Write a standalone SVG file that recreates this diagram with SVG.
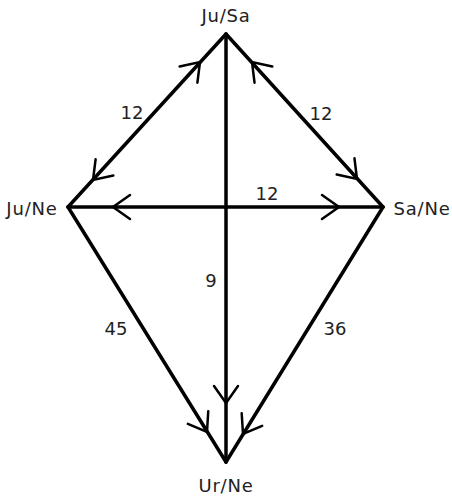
<svg xmlns="http://www.w3.org/2000/svg" width="452" height="496" viewBox="0 0 452 496">
<style>
.edge{stroke:#000;stroke-width:3.5;fill:none;stroke-linecap:round}
.arr{stroke:#000;stroke-width:2.5;fill:none;stroke-linecap:round;stroke-linejoin:miter}
text{font-family:"DejaVu Sans","Liberation Sans",sans-serif;font-size:18px;fill:#222}
.lbl{text-anchor:middle}
.node{letter-spacing:0.8px}
</style>
<defs>
<path id="chev" d="M-17,-12 L0,0 L-17,12"/>
</defs>
<rect width="452" height="496" fill="#fff"/>
<g id="connectors">
<line class="edge" x1="68" y1="207" x2="226" y2="34"/>
<line class="edge" x1="226" y1="34" x2="383" y2="207"/>
<line class="edge" x1="68" y1="207" x2="383" y2="207"/>
<line class="edge" x1="226" y1="34" x2="226" y2="462"/>
<line class="edge" x1="68" y1="207" x2="226" y2="462"/>
<line class="edge" x1="383" y1="207" x2="226" y2="462"/>
<use href="#chev" class="arr" transform="translate(200,62) rotate(-47.6)"/>
<use href="#chev" class="arr" transform="translate(93,180) rotate(132.4)"/>
<use href="#chev" class="arr" transform="translate(252,62) rotate(-132.2)"/>
<use href="#chev" class="arr" transform="translate(357,179) rotate(47.8)"/>
<use href="#chev" class="arr" transform="translate(113,207) rotate(180)"/>
<use href="#chev" class="arr" transform="translate(339,207) rotate(0)"/>
<use href="#chev" class="arr" transform="translate(226,403) rotate(90)"/>
<use href="#chev" class="arr" transform="translate(207,432) rotate(58.2)"/>
<use href="#chev" class="arr" transform="translate(243,434) rotate(121.6)"/>
<text x="132" y="119" class="lbl">12</text>
<text x="321" y="120" class="lbl">12</text>
<text x="267" y="200" class="lbl">12</text>
<text x="211" y="287" class="lbl">9</text>
<text x="116" y="335" class="lbl">45</text>
<text x="335" y="335" class="lbl">36</text>
</g>
<g id="JuSa"><text x="226" y="22" class="lbl node">Ju/Sa</text></g>
<g id="JuNe"><text x="32" y="215" class="lbl node">Ju/Ne</text></g>
<g id="SaNe"><text x="422" y="215" class="lbl node">Sa/Ne</text></g>
<g id="UrNe"><text x="226" y="492" class="lbl node">Ur/Ne</text></g>
</svg>
